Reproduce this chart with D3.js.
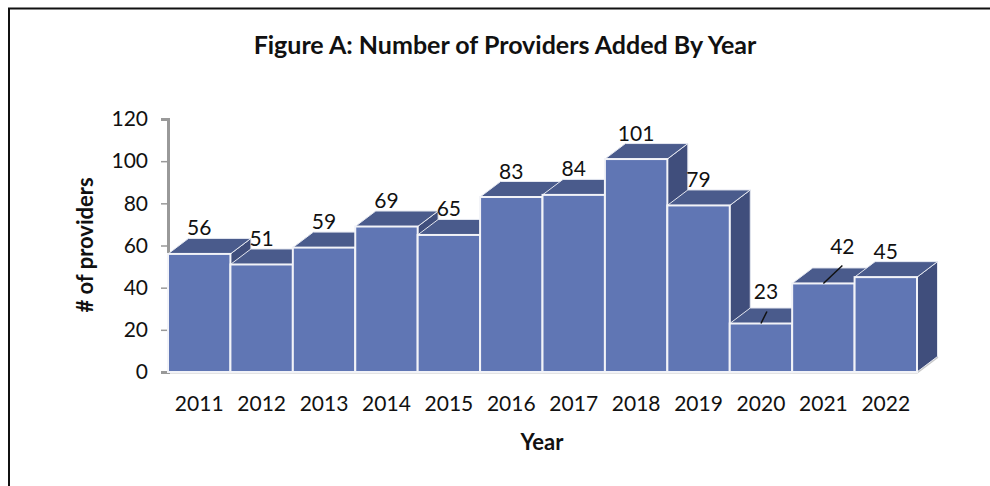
<!DOCTYPE html>
<html>
<head>
<meta charset="utf-8">
<script src="https://cdnjs.cloudflare.com/ajax/libs/d3/7.8.5/d3.min.js"></script>
<style>
  html, body { margin: 0; padding: 0; background: #fff; }
  svg { display: block; }
  text { font-family: Lato, "Open Sans", sans-serif; fill: #111; }
</style>
</head>
<body>
<svg id="chart" width="990" height="486"></svg>
<script>
  const years = ['2011', '2012', '2013', '2014', '2015', '2016', '2017', '2018', '2019', '2020', '2021', '2022'];
  const providers = [56, 51, 59, 69, 65, 83, 84, 101, 79, 23, 42, 45];
  const yTicks = [0, 20, 40, 60, 80, 100, 120];

  const svg = d3.select('svg#chart');

  const margin = { top: 119, left: 168, right: 73, bottom: 114 };
  const width = 990, height = 486;
  const innerWidth = width - margin.left - margin.right;
  const innerHeight = height - margin.top - margin.bottom;
  const depthX = 20.5, depthY = -15.5;

  // frame of the pasted figure, only top and left are in the crop
  svg.append('path')
    .attr('d', `M9,486V8.5H990`)
    .attr('fill', 'none')
    .attr('stroke', '#111')
    .attr('stroke-width', 2);

  svg.append('text')
    .attr('x', 505).attr('y', 54)
    .attr('text-anchor', 'middle')
    .attr('font-size', 25)
    .attr('font-weight', 'bold')
    .text('Figure A: Number of Providers Added By Year');

  const xScale = d3.scaleBand().domain(years).range([0, innerWidth]);
  const yScale = d3.scaleLinear().domain([0, 120]).range([innerHeight, 0]);

  const g = svg.append('g').attr('transform', `translate(${margin.left},${margin.top})`);

  // floor edge behind the bars
  g.append('path')
    .attr('d', `M0,${innerHeight}H${innerWidth}l${depthX},${depthY}`)
    .attr('fill', 'none')
    .attr('stroke', '#c8c8c8')
    .attr('stroke-width', 3);

  // y axis
  const yAxis = d3.axisLeft(yScale).tickValues(yTicks).tickSize(7).tickPadding(13);
  const yAxisG = g.append('g').attr('class', 'y-axis').call(yAxis);
  yAxisG.select('.domain').attr('stroke', '#999').attr('stroke-width', 3);
  yAxisG.selectAll('.tick line').attr('stroke', '#999').attr('stroke-width', 1.5);
  yAxisG.selectAll('text').attr('font-size', 21).attr('font-family', 'Lato').attr('fill', '#111');

  // x axis
  const xAxis = d3.axisBottom(xScale).tickSize(0).tickPadding(24);
  const xAxisG = g.append('g').attr('class', 'x-axis')
    .attr('transform', `translate(0,${innerHeight})`).call(xAxis);
  xAxisG.select('.domain').remove();
  xAxisG.selectAll('text').attr('font-size', 21).attr('font-family', 'Lato').attr('fill', '#111');

  // bars, left to right so each front covers the neighbour's side
  const bars = g.selectAll('.bar').data(years).enter().append('g').attr('class', 'bar');
  const bw = xScale.bandwidth();
  const valueOf = (d, i) => providers[i];

  bars.append('path')
    .attr('d', (d, i) => {
      const x = xScale(d) + bw, y = yScale(valueOf(d, i));
      return `M${x},${y}l${depthX},${depthY}V${innerHeight + depthY}l${-depthX},${-depthY}Z`;
    })
    .attr('fill', '#404e7c')
    .attr('stroke', '#e4e7f0')
    .attr('stroke-width', 1);

  bars.append('path')
    .attr('d', (d, i) => {
      const x = xScale(d), y = yScale(valueOf(d, i));
      return `M${x},${y}l${depthX},${depthY}h${bw}l${-depthX},${-depthY}Z`;
    })
    .attr('fill', '#4a5b8c')
    .attr('stroke', '#e4e7f0')
    .attr('stroke-width', 1);

  bars.append('rect')
    .attr('x', d => xScale(d))
    .attr('y', (d, i) => yScale(valueOf(d, i)))
    .attr('width', bw)
    .attr('height', (d, i) => innerHeight - yScale(valueOf(d, i)))
    .attr('fill', '#6076b4')
    .attr('stroke', '#f2f3f8')
    .attr('stroke-width', 2);

  // data labels, a few were dragged by hand in the original
  const labelNudge = { '2020': [5, -6], '2021': [19, -11] };
  const leaderEnd = { '2020': [6, -12], '2021': [19, -18] };
  const nudge = d => labelNudge[d] || [0, 0];

  g.selectAll('.value').data(years).enter().append('text')
    .attr('class', 'value')
    .attr('text-anchor', 'middle')
    .attr('font-size', 21)
    .attr('x', d => xScale(d) + bw / 2 + nudge(d)[0])
    .attr('y', (d, i) => yScale(valueOf(d, i)) + depthY - 3 + nudge(d)[1])
    .text((d, i) => valueOf(d, i));

  // leader lines for the two moved labels
  Object.keys(leaderEnd).forEach(yr => {
    const v = providers[years.indexOf(yr)];
    const x = xScale(yr) + bw / 2, y = yScale(v);
    g.append('line')
      .attr('x1', x).attr('y1', y)
      .attr('x2', x + leaderEnd[yr][0]).attr('y2', y + leaderEnd[yr][1])
      .attr('stroke', '#111')
      .attr('stroke-width', 1.5);
  });

  // axis titles
  svg.append('text')
    .attr('x', 542).attr('y', 450)
    .attr('text-anchor', 'middle')
    .attr('font-size', 22)
    .attr('font-weight', 'bold')
    .text('Year');

  svg.append('text')
    .attr('transform', 'translate(93,245) rotate(-90)')
    .attr('text-anchor', 'middle')
    .attr('font-size', 22)
    .attr('font-weight', 'bold')
    .text('# of providers');
</script>
</body>
</html>
